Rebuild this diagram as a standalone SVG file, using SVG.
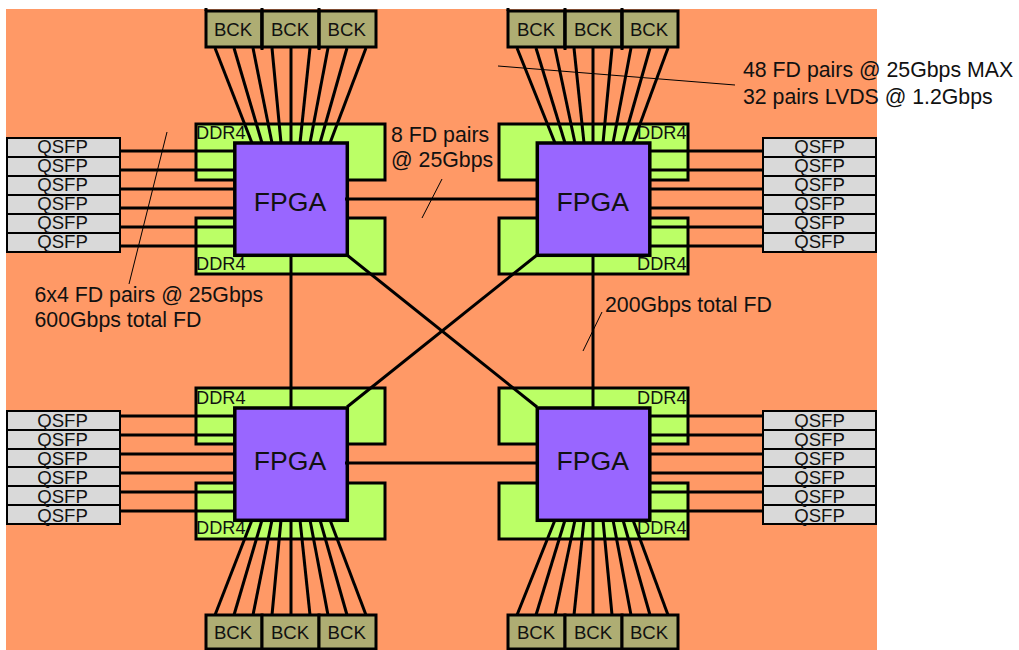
<svg xmlns="http://www.w3.org/2000/svg" width="1019" height="650" viewBox="0 0 1019 650">
<style>
text{font-family:"Liberation Sans",Arial,sans-serif;fill:#111;text-anchor:middle}
.ddr{fill:#bbff66;stroke:#000;stroke-width:3}
.fpga{fill:#9966ff;stroke:#000;stroke-width:3.5}
.q{fill:#d9d9d9;stroke:#000;stroke-width:2}
.b{fill:#aead73;stroke:#000;stroke-width:3}
.k{stroke:#000;stroke-width:3}
.c line{stroke:#000;stroke-width:3}
.c .t{stroke-width:1}
.s{font-size:18.6px}
.d{font-size:18.2px}
.d text{text-anchor:start}
.m{font-size:21.3px;text-anchor:start}
.f{font-size:26.6px}
</style>
<rect x="6" y="9" width="871" height="641" fill="#ff9966"/>
<g id="ddr-memory">
<rect class="ddr" x="196" y="124" width="189" height="56"/><rect class="ddr" x="196" y="218" width="189" height="56"/>
<rect class="ddr" x="499" y="124" width="189" height="56"/><rect class="ddr" x="499" y="218" width="189" height="56"/>
<rect class="ddr" x="196" y="388" width="189" height="56"/><rect class="ddr" x="196" y="483" width="189" height="56"/>
<rect class="ddr" x="499" y="388" width="189" height="56"/><rect class="ddr" x="499" y="483" width="189" height="56"/>
<g class="d">
<text x="196" y="139">DDR4</text><text x="196" y="270">DDR4</text>
<text x="637" y="139">DDR4</text><text x="637" y="270">DDR4</text>
<text x="196" y="404">DDR4</text><text x="196" y="534">DDR4</text>
<text x="637" y="404">DDR4</text><text x="637" y="534">DDR4</text>
</g>
</g>
<g id="connectors" class="c">
<line x1="120" y1="151" x2="234" y2="151"/><line x1="120" y1="170" x2="234" y2="170"/><line x1="120" y1="189" x2="234" y2="189"/><line x1="120" y1="208" x2="234" y2="208"/><line x1="120" y1="227" x2="234" y2="227"/><line x1="120" y1="246" x2="234" y2="246"/>
<line x1="650" y1="151" x2="764" y2="151"/><line x1="650" y1="170" x2="764" y2="170"/><line x1="650" y1="189" x2="764" y2="189"/><line x1="650" y1="208" x2="764" y2="208"/><line x1="650" y1="227" x2="764" y2="227"/><line x1="650" y1="246" x2="764" y2="246"/>
<line x1="120" y1="416" x2="234" y2="416"/><line x1="120" y1="435" x2="234" y2="435"/><line x1="120" y1="454" x2="234" y2="454"/><line x1="120" y1="473" x2="234" y2="473"/><line x1="120" y1="492" x2="234" y2="492"/><line x1="120" y1="511" x2="234" y2="511"/>
<line x1="650" y1="416" x2="764" y2="416"/><line x1="650" y1="435" x2="764" y2="435"/><line x1="650" y1="454" x2="764" y2="454"/><line x1="650" y1="473" x2="764" y2="473"/><line x1="650" y1="492" x2="764" y2="492"/><line x1="650" y1="511" x2="764" y2="511"/>
<line x1="215" y1="48" x2="252" y2="143"/><line x1="234" y1="48" x2="262" y2="143"/><line x1="253" y1="48" x2="272" y2="143"/><line x1="272" y1="48" x2="281" y2="143"/><line x1="291" y1="48" x2="291" y2="143"/><line x1="310" y1="48" x2="300" y2="143"/><line x1="328" y1="48" x2="310" y2="143"/><line x1="347" y1="48" x2="320" y2="143"/><line x1="366" y1="48" x2="330" y2="143"/>
<line x1="517" y1="48" x2="555" y2="143"/><line x1="536" y1="48" x2="565" y2="143"/><line x1="555" y1="48" x2="575" y2="143"/><line x1="574" y1="48" x2="584" y2="143"/><line x1="593" y1="48" x2="593" y2="143"/><line x1="612" y1="48" x2="603" y2="143"/><line x1="631" y1="48" x2="613" y2="143"/><line x1="650" y1="48" x2="623" y2="143"/><line x1="668" y1="48" x2="633" y2="143"/>
<line x1="215" y1="615" x2="252" y2="520"/><line x1="234" y1="615" x2="262" y2="520"/><line x1="253" y1="615" x2="272" y2="520"/><line x1="272" y1="615" x2="281" y2="520"/><line x1="291" y1="615" x2="291" y2="520"/><line x1="310" y1="615" x2="300" y2="520"/><line x1="328" y1="615" x2="310" y2="520"/><line x1="347" y1="615" x2="320" y2="520"/><line x1="366" y1="615" x2="330" y2="520"/>
<line x1="517" y1="615" x2="555" y2="520"/><line x1="536" y1="615" x2="565" y2="520"/><line x1="555" y1="615" x2="575" y2="520"/><line x1="574" y1="615" x2="584" y2="520"/><line x1="593" y1="615" x2="593" y2="520"/><line x1="612" y1="615" x2="603" y2="520"/><line x1="631" y1="615" x2="613" y2="520"/><line x1="650" y1="615" x2="623" y2="520"/><line x1="668" y1="615" x2="633" y2="520"/>
<line x1="291" y1="255" x2="291" y2="407"/><line x1="593" y1="255" x2="593" y2="407"/>
<line x1="347" y1="255" x2="537" y2="407"/><line x1="537" y1="255" x2="347" y2="407"/>
<line class="t" x1="167" y1="132" x2="129" y2="284"/>
<line class="t" x1="498" y1="66" x2="735" y2="85"/>
<line class="t" x1="422" y1="218" x2="442" y2="179"/>
<line class="t" x1="583" y1="351" x2="602" y2="312"/>
</g>
<g id="fpga-tl"><rect class="fpga" x="234.8" y="143" width="112.5" height="112.3"/><text class="f" x="290" y="210.5">FPGA</text></g>
<g id="fpga-tr"><rect class="fpga" x="537.3" y="143" width="112.5" height="112.3"/><text class="f" x="592.7" y="210.5">FPGA</text></g>
<g id="fpga-bl"><rect class="fpga" x="234.8" y="408" width="112.5" height="112.3"/><text class="f" x="290" y="469.5">FPGA</text></g>
<g id="fpga-br"><rect class="fpga" x="537.3" y="408" width="112.5" height="112.3"/><text class="f" x="592.7" y="469.5">FPGA</text></g>
<g id="fpga-links" class="c"><line x1="345" y1="199" x2="537" y2="199"/><line x1="345" y1="463" x2="537" y2="463"/></g>
<g id="qsfp-tl" class="s"><rect class="q" x="7" y="138" width="113" height="19"/><rect class="q" x="7" y="157" width="113" height="19"/><rect class="q" x="7" y="176" width="113" height="19"/><rect class="q" x="7" y="195" width="113" height="19"/><rect class="q" x="7" y="214" width="113" height="19"/><rect class="q" x="7" y="233" width="113" height="19"/>
<text x="62.5" y="152.5">QSFP</text><text x="62.5" y="171.5">QSFP</text><text x="62.5" y="190.5">QSFP</text><text x="62.5" y="209.5">QSFP</text><text x="62.5" y="228.5">QSFP</text><text x="62.5" y="247.5">QSFP</text></g>
<g id="qsfp-tr" class="s"><rect class="q" x="763" y="138" width="113" height="19"/><rect class="q" x="763" y="157" width="113" height="19"/><rect class="q" x="763" y="176" width="113" height="19"/><rect class="q" x="763" y="195" width="113" height="19"/><rect class="q" x="763" y="214" width="113" height="19"/><rect class="q" x="763" y="233" width="113" height="19"/>
<text x="819.5" y="152.5">QSFP</text><text x="819.5" y="171.5">QSFP</text><text x="819.5" y="190.5">QSFP</text><text x="819.5" y="209.5">QSFP</text><text x="819.5" y="228.5">QSFP</text><text x="819.5" y="247.5">QSFP</text></g>
<g id="qsfp-bl" class="s"><rect class="q" x="7" y="411" width="113" height="19"/><rect class="q" x="7" y="430" width="113" height="19"/><rect class="q" x="7" y="449" width="113" height="18"/><rect class="q" x="7" y="467" width="113" height="19"/><rect class="q" x="7" y="486" width="113" height="19"/><rect class="q" x="7" y="505" width="113" height="19"/>
<text x="62.5" y="427">QSFP</text><text x="62.5" y="446">QSFP</text><text x="62.5" y="465">QSFP</text><text x="62.5" y="484">QSFP</text><text x="62.5" y="503">QSFP</text><text x="62.5" y="522">QSFP</text></g>
<g id="qsfp-br" class="s"><rect class="q" x="763" y="411" width="113" height="19"/><rect class="q" x="763" y="430" width="113" height="19"/><rect class="q" x="763" y="449" width="113" height="18"/><rect class="q" x="763" y="467" width="113" height="19"/><rect class="q" x="763" y="486" width="113" height="19"/><rect class="q" x="763" y="505" width="113" height="19"/>
<text x="819.5" y="427">QSFP</text><text x="819.5" y="446">QSFP</text><text x="819.5" y="465">QSFP</text><text x="819.5" y="484">QSFP</text><text x="819.5" y="503">QSFP</text><text x="819.5" y="522">QSFP</text></g>
<g id="bck-tl" class="s"><rect class="b" x="206" y="11" width="56" height="36"/><rect class="b" x="262" y="11" width="57" height="36"/><rect class="b" x="319" y="11" width="57" height="36"/><line class="k" x1="206" y1="8" x2="206" y2="11"/><line class="k" x1="262" y1="8" x2="262" y2="50"/><line class="k" x1="319" y1="8" x2="319" y2="50"/><text x="233" y="35.5">BCK</text><text x="290" y="35.5">BCK</text><text x="346.7" y="35.5">BCK</text></g>
<g id="bck-tr" class="s"><rect class="b" x="508" y="11" width="57" height="36"/><rect class="b" x="565" y="11" width="57" height="36"/><rect class="b" x="622" y="11" width="56" height="36"/><line class="k" x1="508" y1="8" x2="508" y2="11"/><line class="k" x1="565" y1="8" x2="565" y2="50"/><line class="k" x1="622" y1="8" x2="622" y2="50"/><text x="536" y="35.5">BCK</text><text x="593" y="35.5">BCK</text><text x="649" y="35.5">BCK</text></g>
<g id="bck-bl" class="s"><rect class="b" x="206" y="615" width="56" height="34"/><rect class="b" x="262" y="615" width="57" height="34"/><rect class="b" x="319" y="615" width="57" height="34"/><text x="233" y="638.5">BCK</text><text x="290" y="638.5">BCK</text><text x="346.7" y="638.5">BCK</text></g>
<g id="bck-br" class="s"><rect class="b" x="508" y="615" width="57" height="34"/><rect class="b" x="565" y="615" width="57" height="34"/><rect class="b" x="622" y="615" width="56" height="34"/><text x="536" y="638.5">BCK</text><text x="593" y="638.5">BCK</text><text x="649" y="638.5">BCK</text></g>
<g id="labels">
<text class="m" x="743" y="76.5">48 FD pairs @ 25Gbps MAX</text>
<text class="m" x="743" y="104">32 pairs LVDS @ 1.2Gbps</text>
<text class="m" x="391" y="142">8 FD pairs</text>
<text class="m" x="391" y="167">@ 25Gbps</text>
<text class="m" x="34.5" y="302">6x4 FD pairs @ 25Gbps</text>
<text class="m" x="34.5" y="327">600Gbps total FD</text>
<text class="m" x="605" y="312">200Gbps total FD</text>
</g>
</svg>
